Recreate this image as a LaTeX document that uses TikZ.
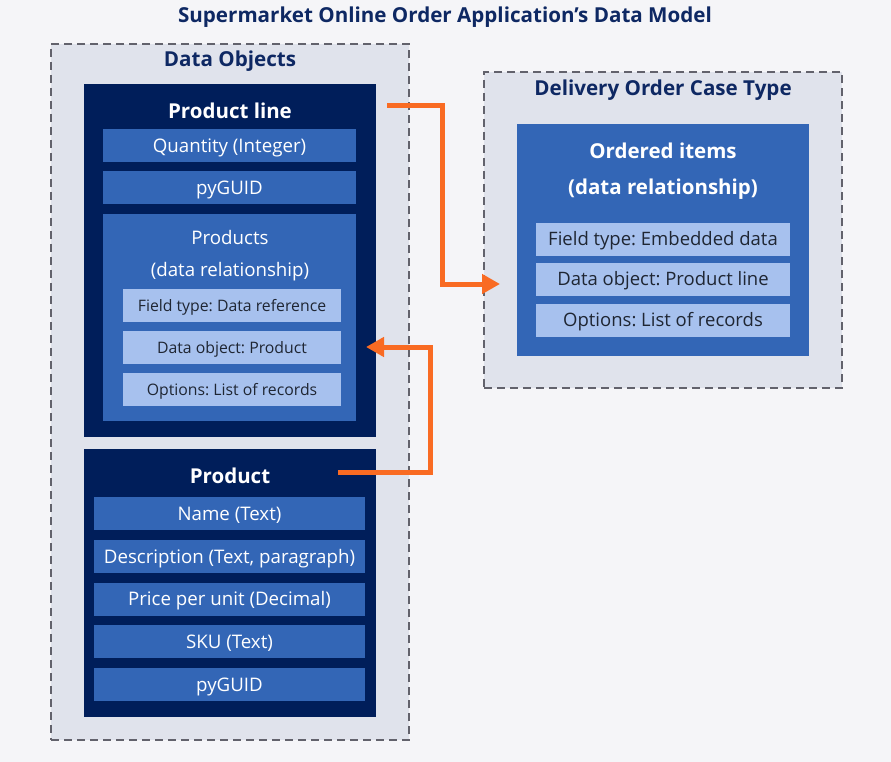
\documentclass[tikz,border=0pt]{standalone}
\usepackage{fontspec}
\setmainfont{Open Sans}
\frenchspacing
\usetikzlibrary{arrows.meta}
\definecolor{pagebg}{HTML}{F5F5F8}
\definecolor{groupbg}{HTML}{E0E3EC}
\definecolor{navy}{HTML}{001E5A}
\definecolor{midblue}{HTML}{3366B6}
\definecolor{paleblue}{HTML}{A7C1EE}
\definecolor{flowor}{HTML}{F96B23}
\definecolor{headtxt}{HTML}{0E2863}
\definecolor{fieldtxt}{HTML}{1F2633}
\definecolor{dashgray}{HTML}{62626C}
\begin{document}
\begin{tikzpicture}[x=1pt,y=-1pt,
  group/.style={draw=dashgray,line width=1.8pt,dash pattern=on 8pt off 5pt,fill=groupbg,inner sep=0pt,outer sep=0pt,minimum width=358pt},
  objbox/.style={fill=navy,inner sep=0pt,outer sep=0pt,minimum width=292pt},
  attr/.style={fill=midblue,text=white,inner sep=0pt,outer sep=0pt,minimum height=33pt,text height=13pt,text depth=0pt,font=\fontsize{18.7}{22}\selectfont},
  relbox/.style={fill=midblue,inner sep=0pt,outer sep=0pt},
  opt/.style={fill=paleblue,text=fieldtxt,inner sep=0pt,outer sep=0pt,minimum height=33pt,text height=12pt,text depth=0pt},
  grouptitle/.style={text=headtxt,font=\fontsize{20.6}{24}\bfseries\selectfont},
  boxtitle/.style={text=white,font=\fontsize{20.5}{24}\bfseries\selectfont},
  flow/.style={draw=flowor,line width=5pt,-{Triangle[length=18pt,width=19pt]}}]
\fill[pagebg] (0,0) rectangle (891,762);
\useasboundingbox (0,0) rectangle (891,762);
% title
\node[grouptitle] (title) at (445,17) {Supermarket Online Order Application’s Data Model};
% data objects group
\node[group,minimum height=696pt] (dataobj) at (230,392) {};
\node[grouptitle] (dataobjlbl) at (230,61) {Data Objects};
% product line
\node[objbox,minimum height=353pt] (prodline) at (230,260.5) {};
\node[boxtitle] (prodlinelbl) at (230,111) {Product line};
\node[attr,minimum width=253pt] (quantity) at (229.5,146) {Quantity (Integer)};
\node[attr,minimum width=253pt] (guidA) at (229.5,188) {pyGUID};
\node[relbox,minimum width=253pt,minimum height=207pt] (products) at (229.5,317.5) {};
\node[text=white,font=\fontsize{18.7}{22}\selectfont] (productslbl) at (230,237.5) {Products};
\node[text=white,font=\fontsize{18.7}{22}\selectfont] (productsrel) at (230,271.5) {(data relationship)};
\node[opt,minimum width=218pt,font=\fontsize{15.8}{18}\selectfont] (ptype) at (232,305.5) {Field type: Data reference};
\node[opt,minimum width=218pt,font=\fontsize{15.8}{18}\selectfont] (pobj) at (232,347.5) {Data object: Product};
\node[opt,minimum width=218pt,font=\fontsize{15.8}{18}\selectfont] (popts) at (232,389.5) {Options: List of records};
% product
\node[objbox,minimum height=268pt] (product) at (230,583) {};
\node[boxtitle] (productlbl) at (230,476) {Product};
\node[attr,minimum width=271pt] (name) at (229.5,513.5) {Name (Text)};
\node[attr,minimum width=271pt] (descr) at (229.5,556.5) {Description (Text, paragraph)};
\node[attr,minimum width=271pt] (price) at (229.5,599) {Price per unit (Decimal)};
\node[attr,minimum width=271pt] (sku) at (229.5,641.5) {SKU (Text)};
\node[attr,minimum width=271pt] (guidB) at (229.5,684.5) {pyGUID};
% case type group
\node[group,minimum height=316pt] (casetype) at (663,230) {};
\node[grouptitle] (casetypelbl) at (663,90) {Delivery Order Case Type};
\node[relbox,minimum width=292pt,minimum height=232pt] (ordered) at (663,240) {};
\node[boxtitle] (orderedlbl) at (663,151) {Ordered items};
\node[boxtitle] (orderedrel) at (663,189) {(data relationship)};
\node[opt,minimum width=254pt,font=\fontsize{18.5}{22}\selectfont] (otype) at (663,239.5) {Field type: Embedded data};
\node[opt,minimum width=254pt,font=\fontsize{18.5}{22}\selectfont] (oobj) at (663,279.5) {Data object: Product line};
\node[opt,minimum width=254pt,font=\fontsize{18.5}{22}\selectfont] (oopts) at (663,320) {Options: List of records};
% connectors
\coordinate (lineout) at (387,106);
\coordinate (orderin) at (500,284);
\coordinate (prodout) at (338,472);
\coordinate (prodsin) at (366,347);
\draw[flow] (lineout) -- (442,106) |- (orderin);
\draw[flow] (prodout) -- (430,472) |- (prodsin);
\end{tikzpicture}
\end{document}
